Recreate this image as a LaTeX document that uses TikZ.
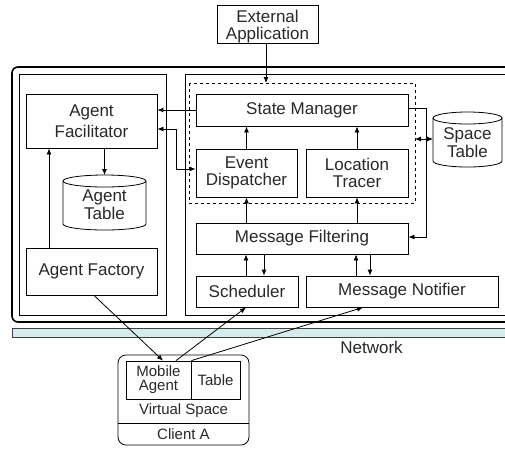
\documentclass[tikz,border=0pt]{standalone}
\usepackage{fontspec}
\setmainfont{Liberation Sans}
\usetikzlibrary{arrows.meta,calc}
\definecolor{txt}{RGB}{40,40,40}
\definecolor{netc}{RGB}{214,236,236}
\begin{document}
\begin{tikzpicture}[x=1pt,y=-1pt,
  box/.style={draw, line width=0.8pt, inner sep=0pt, align=center, text=txt, font=\fontsize{17}{21}\selectfont},
  tbox/.style={box, font=\fontsize{17}{17}\selectfont},
  lbl/.style={inner sep=0pt, align=center, text=txt, font=\fontsize{17}{21}\selectfont},
  cyl/.style={lbl, font=\fontsize{17}{18}\selectfont},
  sbox/.style={draw, line width=0.8pt, inner sep=0pt, align=center, text=txt, font=\fontsize{15}{14}\selectfont},
  slbl/.style={inner sep=0pt, align=center, text=txt, font=\fontsize{15}{15}\selectfont},
  frame/.style={draw, line width=0.8pt},
  arr/.style={-{Latex[length=6pt,width=5pt]}, line width=0.8pt},
  darr/.style={{Latex[length=6pt,width=5pt]}-{Latex[length=6pt,width=5pt]}, line width=0.8pt}]
\useasboundingbox (0,0) rectangle (505,448);
\clip (0,0) rectangle (505,448);
\fill[white] (0,0) rectangle (505,448);

% frames
\draw[line width=1.6pt, rounded corners=6pt] (12,67) rectangle (540,322);
\draw[frame] (19,74) rectangle (166,315);
\draw[frame] (185,74) rectangle (540,315);
\draw[fill=netc, draw=black!75, line width=0.8pt] (12,328) rectangle (540,337);
\node[lbl] (net) at (371.5,347) {Network};

% dashed group
\draw[dashed, line width=0.8pt] (189,83) rectangle (415,203);

% nodes
\draw[line width=0.8pt] (217,5) rectangle (318,43);
\node[lbl, font=\fontsize{17}{17}\selectfont] (ext) at (267.5,26.5) {External\\Application};
\node[box, minimum width=131pt, minimum height=54pt] (af) at (91.5,121) {Agent\\Facilitator};
\node[cyl] (tbl) at (104.5,205) {Agent\\Table};
\node[box, minimum width=131pt, minimum height=47pt] (fac) at (91.5,271.5) {Agent Factory};
\node[box, minimum width=212pt, minimum height=32pt] (sm) at (302,110) {State Manager};
\node[tbox, minimum width=101pt, minimum height=48pt] (ed) at (246.5,173) {Event\\Dispatcher};
\node[tbox, minimum width=102pt, minimum height=48pt] (lt) at (357,173) {Location\\Tracer};
\node[cyl] (st) at (467.5,143) {Space\\Table};
\node[box, minimum width=212pt, minimum height=31pt] (mf) at (302,238.5) {Message Filtering};
\node[box, minimum width=102pt, minimum height=31pt] (sch) at (247,291.5) {Scheduler};
\node[box, minimum width=192pt, minimum height=31pt] (mn) at (402,291.5) {Message Notifier};
\coordinate (extb) at (266,43);
\coordinate (grp) at (266,83);
\coordinate (tbltop) at (104.5,175);
\coordinate (stl) at (433,139);

% cylinders
\draw[line width=0.8pt] (63,181) -- (63,224) arc[start angle=180, end angle=360, x radius=41.5pt, y radius=6pt] -- (146,181);
\draw[line width=0.8pt] (104.5,181) ellipse [x radius=41.5pt, y radius=6pt];
\draw[line width=0.8pt] (433,118) -- (433,161) arc[start angle=180, end angle=360, x radius=34.5pt, y radius=6pt] -- (502,118);
\draw[line width=0.8pt] (467.5,118) ellipse [x radius=34.5pt, y radius=6pt];

% client
\draw[line width=0.8pt, rounded corners=8pt] (118,355) rectangle (249,445);
\draw[line width=0.8pt] (118,423) -- (249,423);
\node[sbox, minimum width=65pt, minimum height=38pt] (ma) at (158.5,380) {Mobile\\Agent};
\node[sbox, minimum width=49pt, minimum height=38pt] (ctb) at (215.5,380) {Table};
\node[slbl] (vs) at (183.5,411) {Virtual Space};
\node[slbl] (ca) at (183.5,434) {Client A};

% connectors
\draw[arr] (extb) -- (grp);
\draw[arr] (af.south -| tbltop) -- (tbltop);
\draw[arr] (fac.north -| 49,0) -- (af.south -| 49,0);
\draw[arr] (sm.west) -- (af.east |- sm.west);
\draw[darr] ([yshift=-8pt]af.east) -- ++(19,0) |- ([yshift=4pt]ed.west);
\draw[arr] (ed.north) -- (ed.north |- sm.south);
\draw[arr] (lt.north) -- (lt.north |- sm.south);
\draw[arr] (ed.south |- mf.north) -- (ed.south);
\draw[arr] (lt.south |- mf.north) -- (lt.south);
\draw[arr] ([yshift=2pt]sm.east) -- (426,108) -- (426,237) -- (mf.east |- 0,237);
\draw[darr] (415,139) -- (stl);
\draw[arr] ([xshift=-1pt]sch.north) -- ([xshift=-1pt]sch.north |- mf.south);
\draw[arr] ([xshift=17pt]sch.north |- mf.south) -- ([xshift=17pt]sch.north);
\draw[arr] ([xshift=-46pt]mn.north) -- ([xshift=-46pt]mn.north |- mf.south);
\draw[arr] ([xshift=-32pt]mn.north |- mf.south) -- ([xshift=-32pt]mn.north);
\draw[arr] ([xshift=2.5pt]fac.south) -- ([xshift=4.5pt]ma.north);
\draw[arr] ([xshift=17.5pt]ma.north) -- ([xshift=-1pt]sch.south);
\draw[arr] (ma.north east) -- ([xshift=-39pt]mn.south);
\end{tikzpicture}
\end{document}
